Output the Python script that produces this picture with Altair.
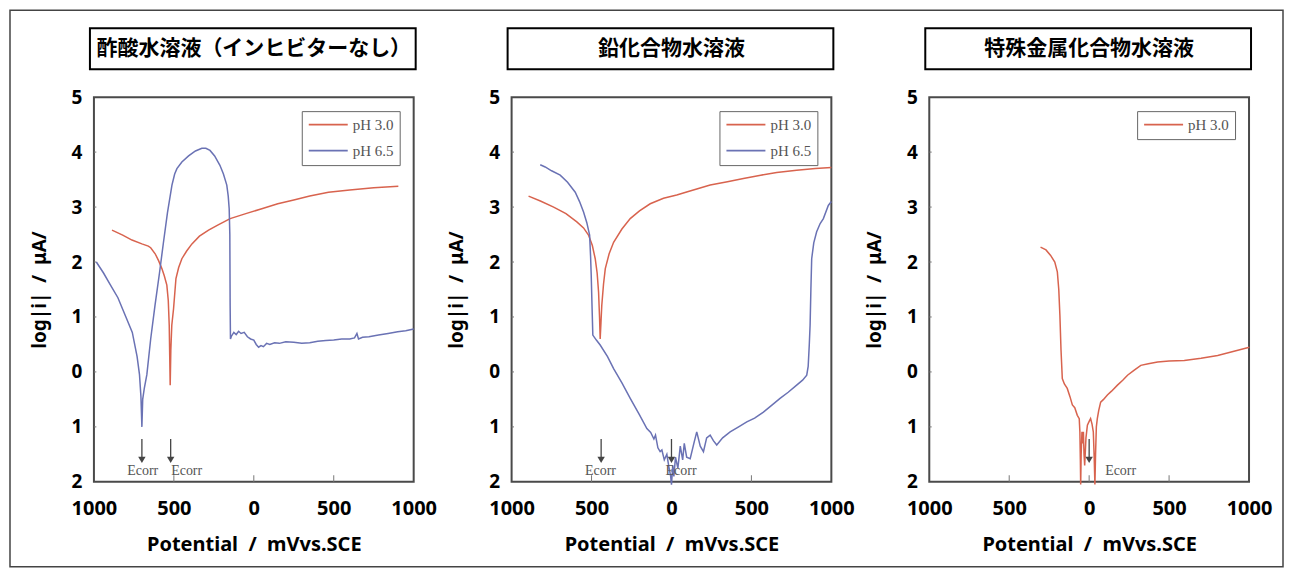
import altair as alt
import pandas as pd

RED = "#d8634e"
BLUE = "#6a72b4"

panel_titles = ["酢酸水溶液（インヒビターなし）", "鉛化合物水溶液", "特殊金属化合物水溶液"]
series_names = ["pH 3.0", "pH 6.5"]

# Panel 1: acetic acid solution (no inhibitor)
p1_red_x = [-887, -820, -762, -700, -660, -645, -617, -595, -575, -560, -544, -535, -529, -526, -523, -519, -513,
            -502, -487, -470, -450, -420, -387, -340, -283, -220, -148, -50, 50, 150, 250, 350, 467, 600, 750, 904]
p1_red_y = [2.58, 2.49, 2.40, 2.33, 2.29, 2.26, 2.15, 2.02, 1.88, 1.75, 1.58, 1.3, 0.85, 0.3, -0.24, 0.4, 0.85,
            1.15, 1.7, 1.9, 2.06, 2.2, 2.33, 2.47, 2.58, 2.68, 2.79, 2.88, 2.97, 3.06, 3.13, 3.2, 3.27, 3.31, 3.35, 3.38]
p1_blue_x = [-985, -940, -900, -850, -800, -760, -730, -715, -706, -700, -695, -685, -669, -645, -618, -590, -565,
             -540, -512, -495, -481, -450, -408, -365, -325, -300, -274, -245, -212, -190, -169, -160, -154, -150,
             -148, -146, -140, -125, -110, -95, -80, -60, -40, -20, 0, 15, 30, 45, 60, 80, 100, 130, 160, 200, 250,
             300, 350, 400, 450, 500, 550, 600, 630, 645, 655, 680, 720, 780, 840, 900, 950, 1000]
p1_blue_y = [2.0, 1.8, 1.6, 1.35, 1.0, 0.72, 0.28, -0.05, -0.45, -1.0, -0.5, -0.3, -0.05, 0.6, 1.21, 1.8, 2.36,
             2.9, 3.4, 3.6, 3.7, 3.82, 3.93, 4.02, 4.07, 4.07, 4.03, 3.93, 3.76, 3.6, 3.4, 3.2, 2.97, 2.5,
             1.2, 0.6, 0.65, 0.72, 0.68, 0.74, 0.7, 0.72, 0.64, 0.6, 0.58, 0.5, 0.45, 0.48, 0.46, 0.52, 0.5, 0.53,
             0.52, 0.55, 0.54, 0.52, 0.53, 0.56, 0.57, 0.58, 0.6, 0.6, 0.62, 0.7, 0.6, 0.63, 0.64, 0.67, 0.7, 0.73,
             0.75, 0.78]

# Panel 2: lead compound solution
p2_red_x = [-894, -820, -737, -660, -592, -550, -519, -495, -477, -465, -456, -450, -446, -441, -436, -425, -414,
            -390, -362, -310, -258, -200, -133, -50, 33, 100, 158, 242, 350, 450, 558, 658, 783, 900, 1000]
p2_red_y = [3.2, 3.11, 3.0, 2.88, 2.73, 2.62, 2.49, 2.3, 2.06, 1.8, 1.45, 1.0, 0.6, 0.9, 1.21, 1.6, 1.88,
            2.15, 2.36, 2.6, 2.79, 2.93, 3.06, 3.16, 3.22, 3.28, 3.33, 3.4, 3.46, 3.52, 3.58, 3.63, 3.67, 3.7, 3.72]
p2_blue_x = [-821, -790, -750, -696, -650, -602, -575, -550, -530, -512, -506, -502, -497, -492, -470, -446, -400,
             -362, -310, -258, -200, -154, -130, -110, -100, -85, -71, -60, -45, -29, -15, -5, 0, 8, 15, 25, 40, 55,
             70, 80, 95, 117, 140, 158, 180, 200, 220, 242, 262, 283, 320, 367, 420, 471, 520, 575, 630, 679, 730,
             783, 820, 846, 855, 862, 867, 872, 877, 890, 908, 930, 950, 981, 1000]
p2_blue_y = [3.77, 3.73, 3.66, 3.58, 3.45, 3.27, 3.1, 2.91, 2.72, 2.49, 2.1, 1.76, 1.2, 0.67, 0.58, 0.49, 0.28,
             0.06, -0.2, -0.48, -0.78, -1.03, -1.1, -1.22, -1.15, -1.38, -1.45, -1.42, -1.6, -1.5, -1.75, -1.9, -2.05,
             -1.7, -1.9, -1.55, -1.75, -1.35, -1.6, -1.3, -1.55, -1.58, -1.3, -1.09, -1.35, -1.45, -1.2, -1.15, -1.25,
             -1.33, -1.2, -1.09, -1.0, -0.91, -0.84, -0.73, -0.6, -0.48, -0.37, -0.24, -0.15, -0.06, 0.1, 0.5, 0.85,
             1.5, 2.06, 2.35, 2.55, 2.7, 2.79, 3.03, 3.1]

# Panel 3: special metal compound solution
p3_red_x = [-304, -270, -241, -215, -199, -190, -183, -176, -168, -155, -137, -120, -105, -90, -74, -62, -58, -55,
            -53, -50, -45, -40, -36, -32, -28, -20, -11, 0, 9, 18, 26, 32, 36, 40, 45, 51, 60, 72, 90, 114, 140,
            177, 210, 240, 280, 323, 370, 428, 500, 595, 700, 804, 900, 1002]
p3_red_y = [2.27, 2.22, 2.12, 2.0, 1.82, 1.5, 1.03, 0.4, -0.12, -0.22, -0.3, -0.45, -0.6, -0.65, -0.79, -0.85,
            -1.09, -1.6, -2.05, -1.5, -1.09, -1.3, -1.09, -1.5, -1.7, -1.2, -0.97, -0.9, -0.85, -0.95, -1.09, -1.6,
            -2.05, -1.5, -1.0, -0.85, -0.7, -0.55, -0.5, -0.42, -0.35, -0.24, -0.15, -0.06, 0.03, 0.12, 0.15, 0.18,
            0.2, 0.21, 0.25, 0.3, 0.37, 0.45]

# Ecorr annotations
p1_ecorr_x = [-700, -520]
p1_ecorr_text_x = [-695, -420]
p2_ecorr_x = [-440, 0]
p2_ecorr_text_x = [-444, 60]
p3_ecorr_x = [0]
p3_ecorr_text_x = [197]

x_tick_vals = [-500, 0, 500]
y_tick_vals = [-1, 0, 1, 2, 3, 4]

FONT = "Noto Sans"
XS = alt.Scale(domain=[-1000, 1000], nice=False, zero=False)
YS = alt.Scale(domain=[-2, 5], nice=False, zero=False)

x_axis = alt.Axis(values=[-1000, -500, 0, 500, 1000], labelExpr="'' + abs(datum.value)",
                  title="Potential\u00a0 /\u00a0 mVvs.SCE", grid=False, ticks=False, domain=False,
                  labelFont=FONT, labelFontSize=20, labelFontWeight="bold", labelColor="black",
                  labelPadding=17, labelFlush=False, labelOverlap=False,
                  titleFont=FONT, titleFontSize=20, titleFontWeight="bold", titleColor="black",
                  titlePadding=16)
y_axis = alt.Axis(values=[-2, -1, 0, 1, 2, 3, 4, 5], labelExpr="'' + abs(datum.value)",
                  title="log|i|\u00a0 /\u00a0 μA/", grid=False, ticks=False, domain=False,
                  labelFont=FONT, labelFontSize=19, labelFontWeight="bold", labelColor="black",
                  labelPadding=12, labelFlush=False, labelOverlap=False,
                  titleFont=FONT, titleFontSize=19, titleFontWeight="bold", titleColor="black",
                  titlePadding=22)


def X(field="x"):
    return alt.X(f"{field}:Q", scale=XS, axis=x_axis)


def Y(field="y"):
    return alt.Y(f"{field}:Q", scale=YS, axis=y_axis)


def panel(series, domain, colors, title, ecorr_x, ecorr_tx, outer=False):
    frames = []
    for name, xs, ys in series:
        frames.append(pd.DataFrame({"x": xs, "y": ys, "series": name, "order": list(range(len(xs)))}))
    df = pd.concat(frames, ignore_index=True)

    legend = alt.Legend(orient="top-right", offset=14, title=None, symbolType="M-1,0H5", symbolSize=169,
                        symbolStrokeWidth=1.6, labelFont="Liberation Serif", labelFontSize=15,
                        labelColor="#555555", labelOffset=30, strokeColor="#666666", padding=6,
                        rowPadding=10, fillColor="white")

    lines = alt.Chart(df).mark_line(strokeWidth=1.5).encode(
        x=X(), y=Y(),
        color=alt.Color("series:N", scale=alt.Scale(domain=domain, range=colors), legend=legend),
        order="order:Q",
    )

    xt = pd.DataFrame({"x": x_tick_vals, "y": [-2] * len(x_tick_vals), "y2": [-1.88] * len(x_tick_vals)})
    xticks = alt.Chart(xt).mark_rule(color="#777777", strokeWidth=1).encode(x=X(), y=Y(), y2="y2:Q")
    yt = pd.DataFrame({"y": y_tick_vals, "x": [-1000] * len(y_tick_vals), "x2": [-985] * len(y_tick_vals)})
    yticks = alt.Chart(yt).mark_rule(color="#777777", strokeWidth=1).encode(x=X(), x2="x2:Q", y=Y())

    ec = pd.DataFrame({"x": ecorr_x, "y": [-1.22] * len(ecorr_x), "y2": [-1.56] * len(ecorr_x),
                       "yp": [-1.6] * len(ecorr_x)})
    arrows = alt.Chart(ec).mark_rule(color="#444444", strokeWidth=1.3).encode(x=X(), y=Y(), y2="y2:Q")
    heads = alt.Chart(ec).mark_point(shape="triangle-down", filled=True, color="#444444", size=55,
                                     opacity=1).encode(x=X(), y=Y("yp"))
    et = pd.DataFrame({"x": ecorr_tx, "y": [-1.8] * len(ecorr_tx), "t": ["Ecorr"] * len(ecorr_tx)})
    etext = alt.Chart(et).mark_text(font="Liberation Serif", fontSize=14, color="#555555").encode(
        x=X(), y=Y(), text="t:N")

    tdf = pd.DataFrame({"t": [title]})
    tbox = alt.Chart(tdf).mark_rect(fill="white", stroke="black", strokeWidth=2).encode(
        x=alt.value(-4), x2=alt.value(322), y=alt.value(-69), y2=alt.value(-28))
    ttext = alt.Chart(tdf).mark_text(font="Noto Sans CJK JP", fontSize=21, fontWeight="bold",
                                     color="black").encode(
        x=alt.value(160), y=alt.value(-48), text="t:N")

    layers = [xticks, yticks, lines, arrows, heads, etext, tbox, ttext]
    if outer:
        border = alt.Chart(tdf).mark_rect(fill=None, fillOpacity=0, stroke="#444444", strokeWidth=1.5).encode(
            x=alt.value(-84), x2=alt.value(1190), y=alt.value(-87), y2=alt.value(470))
        layers = [border] + layers
    return alt.layer(*layers).properties(width=320, height=385)


c1 = panel([("pH 3.0", p1_red_x, p1_red_y), ("pH 6.5", p1_blue_x, p1_blue_y)], series_names, [RED, BLUE],
           panel_titles[0], p1_ecorr_x, p1_ecorr_text_x, outer=True)
c2 = panel([("pH 3.0", p2_red_x, p2_red_y), ("pH 6.5", p2_blue_x, p2_blue_y)], series_names, [RED, BLUE],
           panel_titles[1], p2_ecorr_x, p2_ecorr_text_x)
c3 = panel([("pH 3.0", p3_red_x, p3_red_y)], ["pH 3.0"], [RED],
           panel_titles[2], p3_ecorr_x, p3_ecorr_text_x)

chart = alt.hconcat(c1, c2, c3, spacing=98, bounds="flush").resolve_scale(color="independent").configure(
    background="white", padding=0
).configure_view(stroke="#4a4a4a", strokeWidth=2)

chart.save("out.html", embed_options={"renderer": "svg", "actions": False})
